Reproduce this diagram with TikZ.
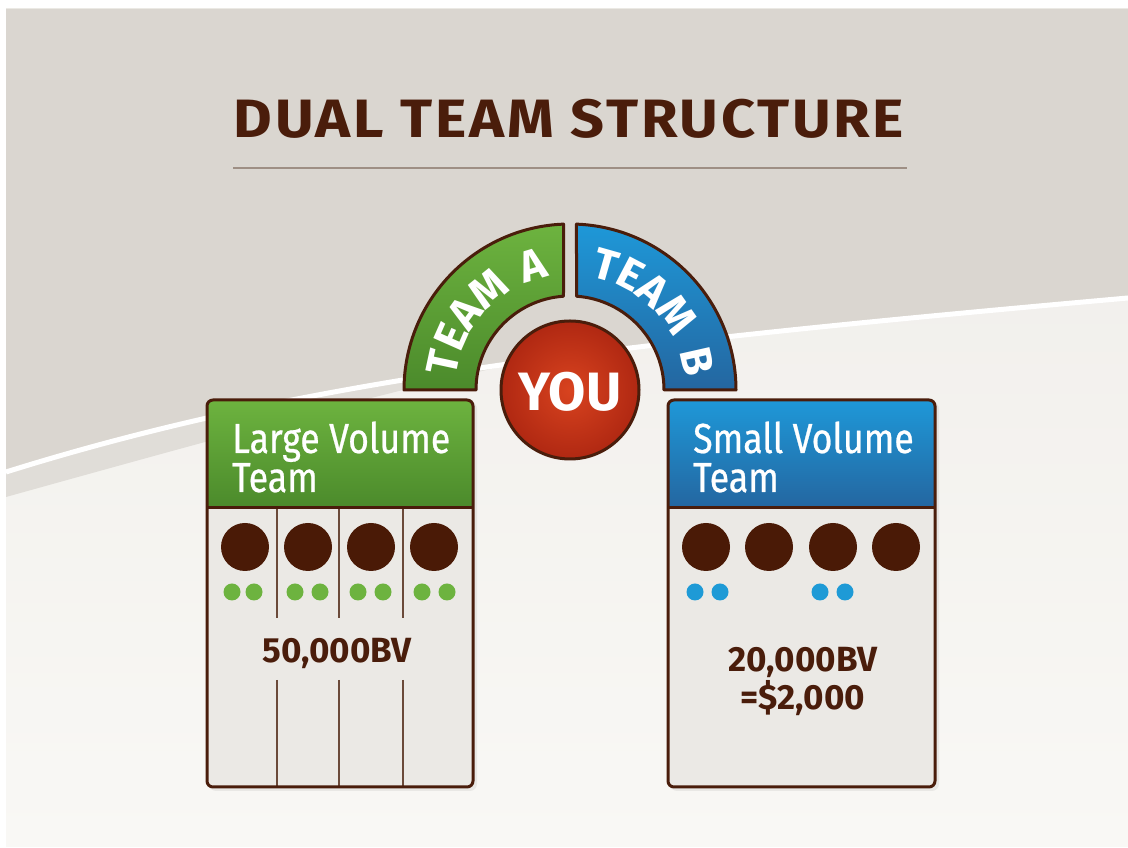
\documentclass[tikz,border=0pt]{standalone}
\usepackage{fontspec}
\setmainfont{Fira Sans}
\newfontfamily\condfont[FakeStretch=0.85, FakeBold=0.6]{Fira Sans}
\newfontfamily\titlefont[FakeStretch=1.1, LetterSpace=5]{Fira Sans}
\newfontfamily\arcfont[LetterSpace=8]{Fira Sans}
\usetikzlibrary{calc,decorations.text}

\definecolor{ink}{HTML}{4A1D0B}
\definecolor{bgtop}{HTML}{DAD6D0}
\definecolor{bgshadow}{HTML}{E0DDD8}
\definecolor{bglow}{HTML}{EEECE8}
\definecolor{bgbot}{HTML}{F9F8F5}
\definecolor{gA}{HTML}{6DB33F}
\definecolor{gB}{HTML}{4B8A2B}
\definecolor{bA}{HTML}{1E98D8}
\definecolor{bB}{HTML}{2466A0}
\definecolor{rA}{HTML}{D8431F}
\definecolor{rB}{HTML}{B02812}
\definecolor{panel}{HTML}{EBE9E5}
\definecolor{rulec}{HTML}{9E8F84}
\definecolor{divc}{HTML}{6B4A3A}
\definecolor{dotc}{HTML}{4A1A06}
\definecolor{gdot}{HTML}{6DB33F}
\definecolor{bdot}{HTML}{1E9AD6}

\begin{document}
\begin{tikzpicture}[x=1pt,y=1pt,
  outline/.style={draw=ink, line width=3pt, line join=round},
  member/.style={circle, fill=dotc, minimum size=48pt, inner sep=0pt},
  gsmall/.style={circle, fill=gdot, minimum size=17pt, inner sep=0pt},
  bsmall/.style={circle, fill=bdot, minimum size=17pt, inner sep=0pt},
  divider/.style={draw=divc, line width=1.5pt},
  headtext/.style={anchor=base west, text=white, inner sep=0pt,
    font=\condfont\fontsize{42}{42}\selectfont},
  figure/.style={anchor=base, text=ink, inner sep=0pt,
    font=\bfseries\fontsize{35}{35}\selectfont}]

\useasboundingbox (0,0) rectangle (1128,848);

% backdrop: light lower field, grey upper field, swoosh
\shade[top color=bglow, bottom color=bgbot] (6,1) rectangle (1128,839);
\fill[bgshadow] (6,376) -- (6,351) .. controls (200,405) and (380,455) .. (522,486)
  -- (522,620) -- (6,620) -- cycle;
\fill[bgtop] (6,839) -- (6,376) .. controls (300,468) and (600,503) .. (1128,550)
  -- (1128,839) -- cycle;
\draw[white, line width=5pt] (6,376) .. controls (300,468) and (600,503) .. (1128,550);

% heading
\node[anchor=base, text=ink, inner sep=0pt,
  font=\titlefont\bfseries\fontsize{54}{54}\selectfont] (title) at (569,710) {DUAL TEAM STRUCTURE};
\coordinate (ulL) at (233,680);
\coordinate (ulR) at (907,680);
\draw[rulec, line width=2pt] (ulL) -- (ulR);

% half ring with the two teams
\coordinate (C) at (570,458);
\shadedraw[outline, top color=gA, bottom color=gB]
  ($(C)+(180:166)$) arc[start angle=180, end angle=92.24, radius=166]
  -- ($(C)+(93.97:94)$) arc[start angle=93.97, end angle=180, radius=94] -- cycle;
\shadedraw[outline, top color=bA, bottom color=bB]
  ($(C)+(87.76:166)$) arc[start angle=87.76, end angle=0, radius=166]
  -- ($(C)+(0:94)$) arc[start angle=0, end angle=86.03, radius=94] -- cycle;
\path[decorate, decoration={text along path, text align=center,
  text={|\arcfont\bfseries\fontsize{44}{44}\selectfont\color{white}|TEAM A}}]
  ($(C)+(182:115)$) arc[start angle=182, end angle=92, radius=115];
\path[decorate, decoration={text along path, text align=center,
  text={|\arcfont\bfseries\fontsize{44}{44}\selectfont\color{white}|TEAM B}}]
  ($(C)+(88:115)$) arc[start angle=88, end angle=-2, radius=115];

% centre badge
\shade[inner color=rA, outer color=rB] (C) circle[radius=69];
\draw[outline] (C) circle[radius=69];
\node[text=white, inner sep=0pt, font=\bfseries\fontsize{54}{54}\selectfont,
  anchor=base] (you) at ($(C)+(0,-21)$) {YOU};

% left panel
\fill[black, opacity=0.06, rounded corners=7] (209,57) rectangle (477,446);
\begin{scope}
  \clip[rounded corners=6] (207,61) rectangle (473,448);
  \fill[panel] (207,61) rectangle (473,448);
  \shade[top color=gA, bottom color=gB] (207,340) rectangle (473,448);
\end{scope}
\foreach \x in {277,339,403} {
  \draw[divider] (\x,340) -- (\x,230);
  \draw[divider] (\x,168) -- (\x,61);
}
\draw[ink, line width=3pt] (207,340) -- (473,340);
\draw[outline, rounded corners=6] (207,61) rectangle (473,448);
\node[headtext] (lvt1) at (232,395) {Large Volume};
\node[headtext] (lvt2) at (232,356) {Team};
\foreach \x [count=\i] in {245,308,371,434} {
  \node[member] (lm\i) at (\x,301) {};
}
\foreach \x [count=\i] in {232,254,295,320,358,383,422,447} {
  \node[gsmall] (lg\i) at (\x,256) {};
}
\node[figure] (lbv) at (337,185) {50,000BV};

% right panel
\fill[black, opacity=0.06, rounded corners=7] (670,57) rectangle (939,446);
\begin{scope}
  \clip[rounded corners=6] (668,61) rectangle (935,448);
  \fill[panel] (668,61) rectangle (935,448);
  \shade[top color=bA, bottom color=bB] (668,340) rectangle (935,448);
\end{scope}
\draw[ink, line width=3pt] (668,340) -- (935,340);
\draw[outline, rounded corners=6] (668,61) rectangle (935,448);
\node[headtext] (svt1) at (693,395) {Small Volume};
\node[headtext] (svt2) at (693,356) {Team};
\foreach \x [count=\i] in {706,769,833,896} {
  \node[member] (rm\i) at (\x,301) {};
}
\foreach \x [count=\i] in {695,720,820,845} {
  \node[bsmall] (rb\i) at (\x,256) {};
}
\node[figure] (rbv) at (803,176) {20,000BV};
\node[figure] (rusd) at (803,138) {=\$2,000};

\end{tikzpicture}
\end{document}
